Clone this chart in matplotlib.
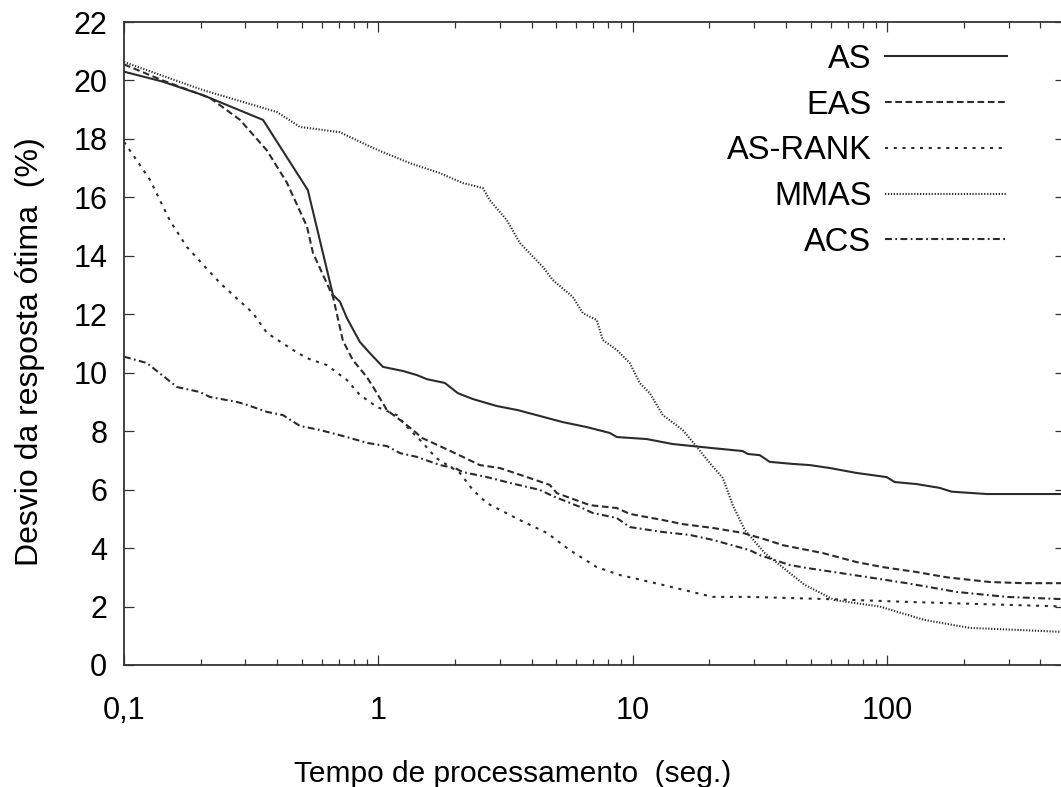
import matplotlib
matplotlib.use("Agg")
import matplotlib.pyplot as plt
from matplotlib.ticker import FixedLocator, FixedFormatter, LogLocator, NullFormatter

plt.rcParams['font.family'] = ['Liberation Sans', 'DejaVu Sans']
plt.rcParams['lines.scale_dashes'] = False

# ---- data ----
as_x = [0.1, 0.142, 0.204, 0.352, 0.528, 0.663, 0.706, 0.752, 0.846, 0.926, 1.042, 1.248, 1.417,
        1.551, 1.825, 2.053, 2.351, 2.922, 3.533, 4.311, 5.309, 6.596, 8.121, 8.651, 11.35, 14.36,
        20.63, 27.05, 28.31, 31.55, 34.54, 42.54, 49.62, 59.44, 75.89, 99.5, 107.0, 130.6, 160.8,
        179.2, 246.0, 500.0]
as_y = [20.3, 19.96, 19.5, 18.65, 16.25, 12.66, 12.43, 11.87, 11.05, 10.67, 10.2, 10.06, 9.92,
        9.78, 9.65, 9.3, 9.1, 8.86, 8.72, 8.52, 8.31, 8.14, 7.94, 7.8, 7.73, 7.56,
        7.42, 7.32, 7.22, 7.18, 6.95, 6.88, 6.84, 6.74, 6.57, 6.43, 6.26, 6.19, 6.06,
        5.93, 5.85, 5.85]

eas_x = [0.1, 0.142, 0.218, 0.286, 0.365, 0.437, 0.524, 0.553, 0.663, 0.725, 0.794, 0.901, 0.987,
         1.08, 1.248, 1.367, 1.483, 1.745, 2.148, 2.504, 3.0, 3.833, 4.72, 5.029, 6.776, 8.651,
         9.731, 13.12, 15.72, 20.63, 27.05, 33.62, 38.86, 55.8, 75.89, 96.0, 130.6, 171.3, 252.8,
         340.8, 500.0]
eas_y = [20.55, 20.0, 19.4, 18.65, 17.6, 16.5, 15.0, 14.1, 12.6, 11.1, 10.43, 9.85, 9.3,
         8.72, 8.31, 8.04, 7.77, 7.49, 7.12, 6.84, 6.74, 6.43, 6.16, 5.88, 5.47, 5.37,
         5.17, 4.96, 4.82, 4.69, 4.52, 4.28, 4.1, 3.83, 3.52, 3.35, 3.18, 3.0, 2.84,
         2.8, 2.8]

rank_x = [0.1, 0.1265, 0.1516, 0.1768, 0.2384, 0.3213, 0.3647, 0.4613, 0.5238, 0.6276, 0.752,
          0.846, 0.987, 1.182, 1.33, 1.496, 1.6, 1.71, 2.09, 2.351, 2.668, 3.597, 4.594, 5.656,
          7.218, 8.89, 13.12, 17.85, 20.63, 28.83, 61.07, 119.3, 500.0]
rank_y = [17.9, 16.6, 15.2, 14.3, 13.07, 12.04, 11.36, 10.78, 10.5, 10.26, 9.75,
          9.24, 8.83, 8.55, 8.04, 7.6, 7.3, 7.05, 6.57, 5.99, 5.54, 4.96, 4.52, 3.93,
          3.35, 3.08, 2.74, 2.46, 2.33, 2.33, 2.25, 2.16, 2.0]

mmas_x = [0.1, 0.2044, 0.3992, 0.4915, 0.7062, 0.9515, 1.33, 1.745, 2.148, 2.573, 2.742, 3.199,
          3.597, 4.43, 4.85, 5.812, 6.362, 7.218, 7.621, 8.651, 9.731, 10.65, 11.66, 13.12, 15.72,
          17.85, 20.08, 22.58, 24.72, 27.55, 33.02, 41.4, 47.41, 62.19, 93.43, 140.4, 210.9, 500.0]
mmas_y = [20.63, 19.67, 18.92, 18.41, 18.23, 17.69, 17.17, 16.83, 16.49, 16.32, 15.9, 15.22,
          14.44, 13.62, 13.17, 12.59, 12.04, 11.8, 11.12, 10.78, 10.33, 9.65, 9.3, 8.55, 8.04,
          7.46, 6.91, 6.4, 5.47, 4.62, 3.83, 3.15, 2.74, 2.22, 2.0, 1.54, 1.27, 1.13]

acs_x = [0.1, 0.1231, 0.1616, 0.1989, 0.2177, 0.278, 0.3043, 0.3647, 0.4215, 0.4915, 0.5891,
         0.752, 0.9013, 1.08, 1.215, 1.417, 1.745, 1.998, 2.148, 2.668, 3.287, 4.311, 4.85,
         6.192, 6.962, 8.651, 9.731, 13.12, 16.75, 20.63, 28.83, 31.55, 41.4, 48.28, 65.07,
         87.7, 119.3, 187.6, 294.9, 500.0]
acs_y = [10.55, 10.33, 9.51, 9.34, 9.17, 9.0, 8.9, 8.66, 8.55, 8.18, 8.04,
         7.8, 7.6, 7.49, 7.25, 7.12, 6.84, 6.74, 6.6, 6.43, 6.23, 5.99, 5.78,
         5.41, 5.2, 5.03, 4.72, 4.55, 4.45, 4.28, 3.93, 3.76, 3.42, 3.32, 3.15,
         2.98, 2.8, 2.5, 2.33, 2.25]

labels = ["AS", "EAS", "AS-RANK", "MMAS", "ACS"]
x_ticks = [0.1, 1, 10, 100]
x_tick_labels = ["0,1", "1", "10", "100"]
y_ticks = list(range(0, 23, 2))

# ---- figure ----
W, H = 1061, 787
fig = plt.figure(figsize=(W / 100, H / 100), dpi=100)
left, right, top, bottom = 124, 1065, 22, 665
ax = fig.add_axes([left / W, 1 - bottom / H, (right - left) / W, (bottom - top) / H])

col = '#2b2b2b'
lw = 1.5
styles = [
    dict(linestyle='-'),
    dict(dashes=(4.8, 2.6)),
    dict(dashes=(2.2, 4.1)),
    dict(dashes=(0.9, 1.2)),
    dict(dashes=(5.0, 2.4, 1.3, 2.4)),
]
series = [(as_x, as_y), (eas_x, eas_y), (rank_x, rank_y), (mmas_x, mmas_y), (acs_x, acs_y)]
for (xs, ys), lab, st in zip(series, labels, styles):
    ax.plot(xs, ys, color=col, lw=lw, label=lab, **st)

ax.set_xscale('log')
ax.set_xlim(0.1, 500)
ax.set_ylim(0, 22)

ax.xaxis.set_major_locator(FixedLocator(x_ticks))
ax.xaxis.set_major_formatter(FixedFormatter(x_tick_labels))
ax.xaxis.set_minor_locator(LogLocator(base=10, subs=range(2, 10), numticks=20))
ax.xaxis.set_minor_formatter(NullFormatter())
ax.set_yticks(y_ticks)

ax.tick_params(axis='both', which='both', direction='in', top=True, right=True,
               color='#333333', width=0.9)
ax.tick_params(axis='both', which='major', length=7.5, labelsize=22)
ax.tick_params(axis='x', which='minor', length=4.5)
ax.tick_params(axis='y', which='major', pad=12)
ax.tick_params(axis='x', which='major', pad=22)

for sp in ax.spines.values():
    sp.set_linewidth(1.3)
    sp.set_color('#333333')

ax.set_xlabel("Tempo de processamento  (seg.)", fontsize=21.5)
ax.xaxis.set_label_coords(0.413, -0.170)
ax.xaxis.label.set_va('center')
ax.set_ylabel("Desvio da resposta ótima  (%)", fontsize=23)
ax.yaxis.set_label_coords(-0.100, 0.488)
ax.yaxis.label.set_va('center')

leg = ax.legend(loc='upper right', bbox_to_anchor=(0.938, 0.966), frameon=False,
                markerfirst=False, fontsize=23.5, handlelength=3.74, handletextpad=0.4,
                labelspacing=0.45, borderpad=0, borderaxespad=0)

fig.savefig('out.png', dpi=100, facecolor='white')
